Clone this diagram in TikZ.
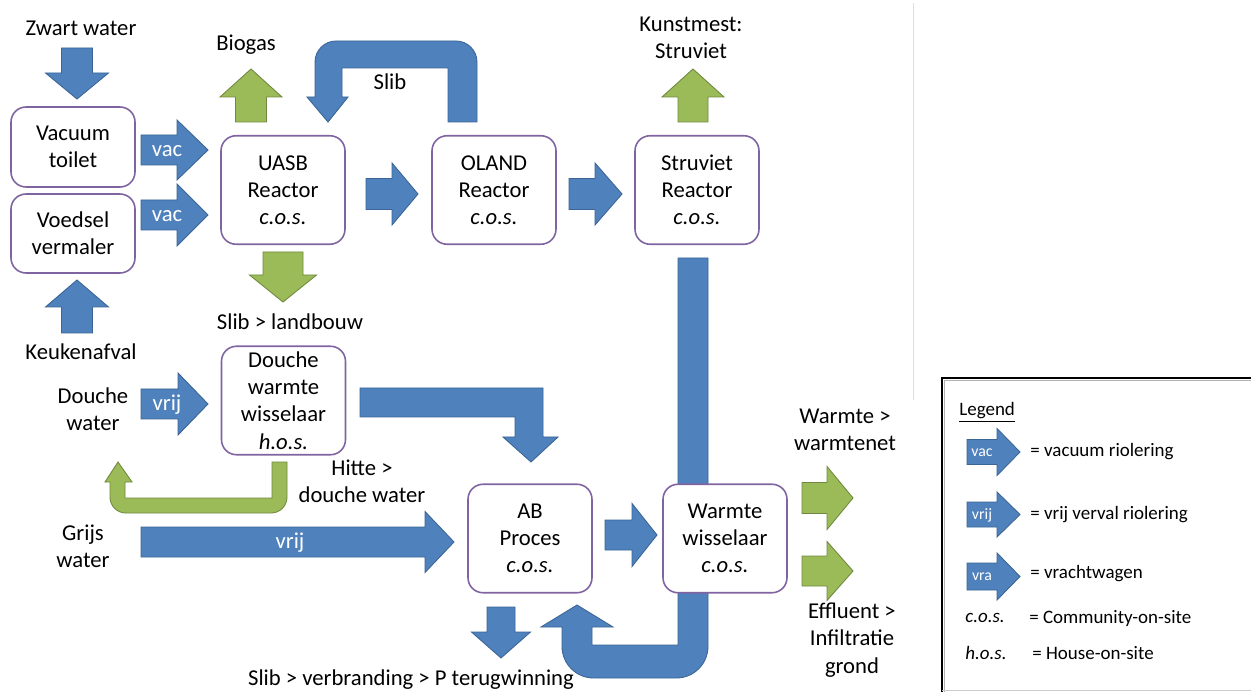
\documentclass[tikz,border=0pt]{standalone}
\usepackage{fontspec}
\setmainfont{Carlito}
\definecolor{bluef}{HTML}{4F81BD}
\definecolor{bluel}{HTML}{3A6596}
\definecolor{greenf}{HTML}{9BBB59}
\definecolor{greenl}{HTML}{71893F}
\definecolor{boxc}{HTML}{8064A2}
\newcommand\myrarr[7]{\filldraw[#1] (#2,#5-#6) -- (#3,#5-#6) -- (#3,#5-#7) -- (#4,#5) -- (#3,#5+#7) -- (#3,#5+#6) -- (#2,#5+#6) -- cycle;}
\newcommand\myvarr[7]{\filldraw[#1] (#2-#6,#3) -- (#2-#6,#4) -- (#2-#7,#4) -- (#2,#5) -- (#2+#7,#4) -- (#2+#6,#4) -- (#2+#6,#3) -- cycle;}
\begin{document}
\begin{tikzpicture}[x=0.02cm,y=-0.02cm,
  font=\fontsize{12.9}{15.5}\selectfont,
  bluearr/.style={fill=bluef,draw=bluel,line width=0.5pt,line join=miter},
  greenarr/.style={fill=greenf,draw=greenl,line width=0.5pt,line join=miter},
  box/.style={draw=boxc,line width=0.9pt,fill=white,rounded corners=0.3cm,
    minimum width=2.48cm,minimum height=2.17cm,align=center,inner sep=0pt},
  lbl/.style={align=center,inner sep=0pt,text=black},
  wlbl/.style={inner sep=0pt,text=white},
  lgd/.style={inner sep=0pt,anchor=west,font=\fontsize{10.8}{13}\selectfont},
  lgw/.style={inner sep=0pt,text=white,font=\fontsize{9}{11}\selectfont}]
\clip (0,0) rectangle (1251,692);
\fill[white] (0,0) rectangle (1251,692);

% faint separator line
\draw[yellow!90!white,line width=0.45pt] (913,3) -- (913,400);

% ---------- block arrows ----------
% Zwart water down, Keukenafval up
\myvarr{bluearr}{77}{48}{73}{99}{15.5}{31.5}
\myvarr{bluearr}{77}{333}{307}{280}{15.5}{31.5}
% vac arrows
\myrarr{bluearr}{141}{177}{208}{150}{15}{30}
\myrarr{bluearr}{141}{177}{208}{215}{15}{31}
% UASB -> OLAND -> Struviet
\myrarr{bluearr}{366}{392}{418}{194}{15.5}{31}
\myrarr{bluearr}{569}{595}{622}{194}{15.5}{31}
% Biogas, Struviet outputs
\myvarr{greenarr}{251}{122}{97}{69}{15.5}{31}
\myvarr{greenarr}{693}{122}{97}{69}{15}{31}
% Slib > landbouw
\myvarr{greenarr}{283}{252}{275}{302}{20}{33.5}
% Douche vrij
\myrarr{bluearr}{141}{178}{208}{404}{15}{31}
% Grijs water vrij
\myrarr{bluearr}{141}{425}{454}{542}{15}{30.5}
% AB -> Warmte
\myrarr{bluearr}{605}{632}{657}{535}{15}{31.5}
% AB down
\myvarr{bluearr}{501}{607}{632}{658}{14}{29.5}
% Warmte outputs
\myrarr{greenarr}{802}{827}{853}{498}{15.5}{31.5}
\myrarr{greenarr}{802}{827}{853}{571}{15}{29.5}

% Slib loop (OLAND -> UASB)
\filldraw[bluearr] (448,122) -- (477,122) [rounded corners=12] -- (477,41) -- (315,41) [sharp corners] -- (315,97)
  -- (307,97) -- (328,122) -- (348,97) -- (342,97) -- (342,68) -- (448,68) -- cycle;
% Douche -> AB bent arrow
\filldraw[bluearr] (360,388) -- (543,388) -- (543,437) -- (558,437) -- (531,462) -- (503,437)
  -- (515,437) -- (515,417) -- (360,417) -- cycle;
% Hitte > douche water (green bent)
\filldraw[greenarr] (272,462) -- (287,462) [rounded corners=9] -- (287,513) -- (110,513) [sharp corners] -- (110,482)
  -- (105,482) -- (118,462) -- (132,482) -- (125,482) -- (125,498) -- (272,498) -- cycle;
% Struviet -> Warmte -> AB loop
\filldraw[bluearr] (678,258) -- (708,258) [rounded corners=18] -- (708,678) -- (562,678) [sharp corners] -- (562,627)
  -- (541,627) -- (577,605) -- (613,627) -- (592,627) -- (592,645) -- (678,645) -- cycle;

% ---------- boxes ----------
\node[box,minimum height=1.6cm] (vt) at (73,147) {Vacuum\\toilet};
\node[box,minimum height=1.58cm] (vv) at (73,233.5) {Voedsel\\vermaler};
\node[box] (uasb) at (283,190) {UASB\\Reactor\\\textit{c.o.s.}};
\node[box] (oland) at (494,190) {OLAND\\Reactor\\\textit{c.o.s.}};
\node[box] (struv) at (697,190) {Struviet\\Reactor\\\textit{c.o.s.}};
\node[box] (douche) at (283.5,400.5) {Douche\\warmte\\wisselaar\\\textit{h.o.s.}};
\node[box] (ab) at (530,538.5) {AB\\Proces\\\textit{c.o.s.}};
\node[box] (ww) at (725,538.5) {Warmte\\wisselaar\\\textit{c.o.s.}};

% ---------- labels ----------
\node[lbl] (t1) at (81,28) {Zwart water};
\node[lbl] (t2) at (246,45) {Biogas};
\node[lbl] (t3) at (390,82) {Slib};
\node[lbl] (t4) at (691,38) {Kunstmest:\\Struviet};
\node[lbl] (t5) at (81,352) {Keukenafval};
\node[lbl] (t6) at (290,322) {Slib > landbouw};
\node[lbl] (t7) at (93,409) {Douche\\water};
\node[lbl] (t8) at (362,481) {Hitte >\\douche water};
\node[lbl] (t9) at (83,546) {Grijs\\water};
\node[lbl] (t10) at (411,680) {Slib > verbranding > P terugwinning};
\node[lbl] (t11) at (845,430) {Warmte >\\warmtenet};
\node[lbl] (t12) at (852,640) {Effluent >\\Infiltratie\\grond};
\node[wlbl] (w1) at (167,151) {vac};
\node[wlbl] (w2) at (167,216) {vac};
\node[wlbl] (w3) at (167,405) {vrij};
\node[wlbl] (w4) at (290,543) {vrij};

% ---------- legend ----------
\draw[gray!60,line width=0.4pt] (944.5,692) -- (944.5,380.5) -- (1260,380.5);
\draw[black,line width=1pt] (942,692) -- (942,378) -- (1260,378);
\draw[gray!40,line width=0.4pt] (942,690) -- (1260,690);
\node[lgd] (lg) at (959,412) {\underline{Legend}};
\myrarr{bluearr}{967}{997}{1020}{452}{12.5}{23.5}
\myrarr{bluearr}{967}{997}{1020}{514.5}{12.5}{22.5}
\myrarr{bluearr}{967}{997}{1020}{576.5}{13.5}{23.5}
\node[lgw] (lw1) at (982,453) {vac};
\node[lgw] (lw2) at (982,515) {vrij};
\node[lgw] (lw3) at (982,577) {vra};
\node[lgd] (l1) at (1030,452) {= vacuum riolering};
\node[lgd] (l2) at (1030,515) {= vrij verval riolering};
\node[lgd] (l3) at (1030,574) {= vrachtwagen};
\node[lgd] (l4) at (965,618) {\textit{c.o.s.}};
\node[lgd] (l5) at (1029,618) {= Community-on-site};
\node[lgd] (l6) at (965,653) {\textit{h.o.s.}};
\node[lgd] (l7) at (1032,653) {= House-on-site};
\end{tikzpicture}
\end{document}
